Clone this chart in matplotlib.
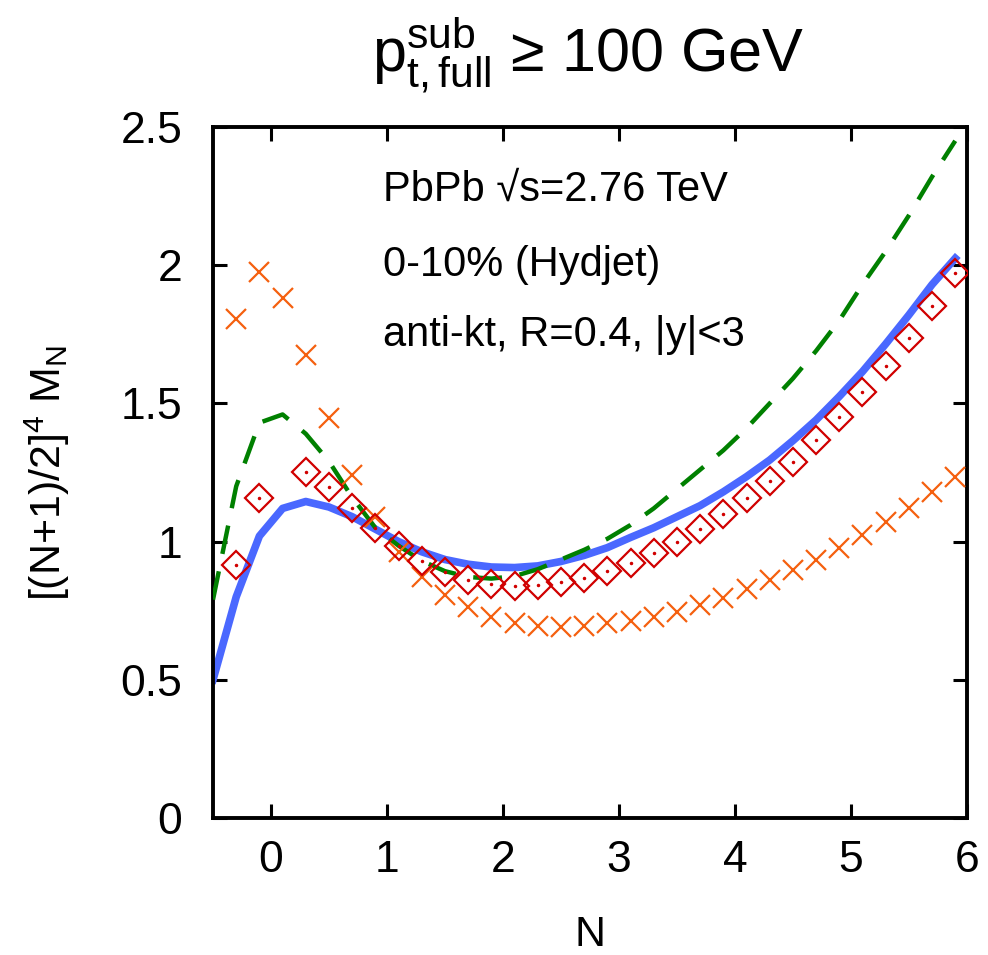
import matplotlib
matplotlib.use("Agg")
import matplotlib.pyplot as plt
import numpy as np

plt.rcParams["font.family"] = ["Liberation Sans", "DejaVu Sans"]
plt.rcParams["mathtext.fontset"] = "custom"
plt.rcParams["mathtext.rm"] = "Liberation Sans"
plt.rcParams["mathtext.it"] = "Liberation Sans"
plt.rcParams["mathtext.bf"] = "Liberation Sans:bold"

# moments sampled at these N values (points)
n_points = [-0.3, -0.1, 0.1, 0.3, 0.5, 0.7, 0.9, 1.1, 1.3, 1.5, 1.7, 1.9,
            2.1, 2.3, 2.5, 2.7, 2.9, 3.1, 3.3, 3.5, 3.7, 3.9, 4.1, 4.3,
            4.5, 4.7, 4.9, 5.1, 5.3, 5.5, 5.7, 5.9]

# orange crosses
cross_vals = [1.805, 1.976, 1.882, 1.675, 1.446, 1.241, 1.090, 0.963,
              0.872, 0.807, 0.762, 0.728, 0.706, 0.696, 0.692, 0.696,
              0.704, 0.713, 0.728, 0.746, 0.770, 0.797, 0.827, 0.861,
              0.897, 0.935, 0.978, 1.023, 1.071, 1.122, 1.180, 1.234]

# red diamonds (no point at N=0.1)
diamond_vals = [0.915, 1.158, np.nan, 1.252, 1.196, 1.121, 1.048, 0.984,
                0.930, 0.891, 0.860, 0.847, 0.840, 0.843, 0.853, 0.869,
                0.894, 0.921, 0.957, 0.997, 1.044, 1.098, 1.156, 1.218,
                1.288, 1.368, 1.450, 1.540, 1.636, 1.738, 1.852, 1.970]

# curves
n_curve = [-0.5, -0.3, -0.1, 0.1, 0.3, 0.5, 0.7, 0.9, 1.1, 1.3, 1.5, 1.7,
           1.9, 2.1, 2.3, 2.5, 2.7, 2.9, 3.1, 3.3, 3.5, 3.7, 3.9, 4.1,
           4.3, 4.5, 4.7, 4.9, 5.1, 5.3, 5.5, 5.7, 5.9]

blue_vals = [0.50, 0.80, 1.02, 1.12, 1.145, 1.125, 1.09, 1.045, 1.00,
             0.963, 0.935, 0.918, 0.908, 0.906, 0.912, 0.928, 0.950,
             0.978, 1.015, 1.05, 1.09, 1.13, 1.18, 1.235, 1.295, 1.365,
             1.44, 1.525, 1.615, 1.715, 1.82, 1.93, 2.025]

green_vals = [0.79, 1.20, 1.43, 1.46, 1.39, 1.29, 1.16, 1.05, 0.985,
              0.93, 0.893, 0.872, 0.866, 0.875, 0.90, 0.935, 0.97, 1.01,
              1.06, 1.12, 1.19, 1.26, 1.33, 1.41, 1.50, 1.59, 1.69, 1.80,
              1.93, 2.05, 2.18, 2.32, 2.45]

fig = plt.figure(figsize=(9.88, 9.55), dpi=100)
ax = fig.add_axes([0.2156, 0.1435, 0.763, 0.7235])

ax.plot(n_curve, blue_vals, color="#4a68ff", lw=5.5, solid_joinstyle="round",
        zorder=2)
ax.plot(n_curve, green_vals, color="#008000", lw=3.2, dashes=(6.5, 4),
        zorder=3)
ax.plot(n_points, cross_vals, ls="none", marker="x", ms=14, mew=1.6,
        color="#f5600f", zorder=4)
ax.plot(n_points, diamond_vals, ls="none", marker="D", ms=14, mew=1.6,
        mfc="none", mec="#d00000", zorder=5)
ax.plot(n_points, diamond_vals, ls="none", marker="o", ms=1.5,
        color="#d00000", zorder=5)

ax.set_xlim(-0.5, 6)
ax.set_ylim(0, 2.5)
ax.set_xticks([0, 1, 2, 3, 4, 5, 6])
ax.set_yticks([0, 0.5, 1, 1.5, 2, 2.5])
ax.set_yticklabels(["0", "0.5", "1", "1.5", "2", "2.5"])

for s in ax.spines.values():
    s.set_linewidth(2.8)
ax.tick_params(direction="in", length=10, width=2.2, top=True, right=True,
               labelsize=32)
ax.tick_params(axis="x", pad=16)
ax.tick_params(axis="y", pad=22)

ax.set_xlabel("N", fontsize=31, va="top")
ax.xaxis.set_label_coords(0.5, -0.14)
ax.set_ylabel(r"[(N+1)/2]$^4$ M$_\mathregular{N}$", fontsize=31)
ax.yaxis.set_label_coords(-0.187, 0.5)

fig.text(0.595, 0.942, r"$\mathregular{p^{sub}_{t,full}}$ ≥ 100 GeV",
         fontsize=44, ha="center", va="center")

ax.text(0.225, 0.909, "PbPb √s=2.76 TeV", transform=ax.transAxes,
        fontsize=30, va="center")
ax.text(0.225, 0.80, "0-10% (Hydjet)", transform=ax.transAxes,
        fontsize=30, va="center")
ax.text(0.225, 0.699, "anti-kt, R=0.4, |y|<3", transform=ax.transAxes,
        fontsize=30, va="center")

fig.savefig("out.png", dpi=100)
